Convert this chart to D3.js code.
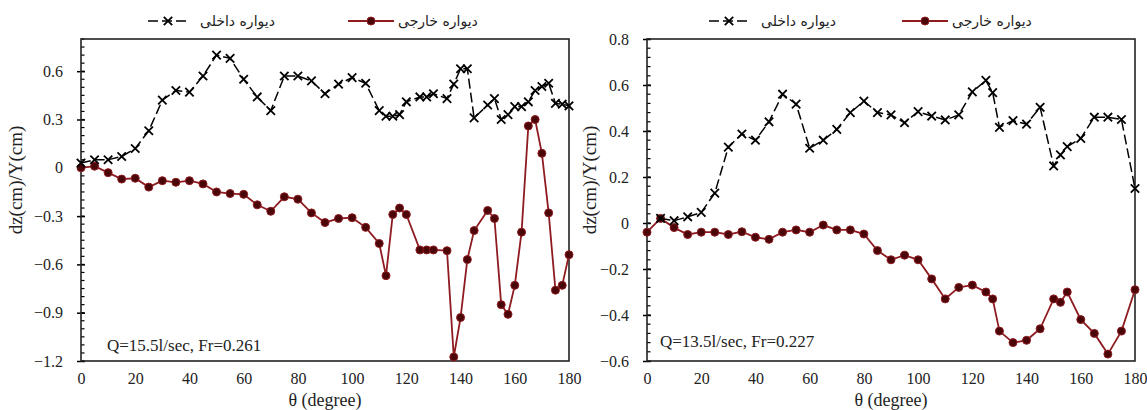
<!DOCTYPE html>
<html>
<head>
<meta charset="utf-8">
<script src="https://cdn.jsdelivr.net/npm/d3@7"></script>
<style>
  body { margin: 0; background: #fff; }
  svg { display: block; }
</style>
</head>
<body>
<svg id="chart" width="1147" height="410"></svg>
<script>
// values (theta in degrees, dz/Y)
var leftAngles = [0,5,10,15,20,25,30,35,40,45,50,55,60,65,70,75,80,85,90,95,100,105,110,
    112.5,115,117.5,120,125,127.5,130,135,137.5,140,142.5,145,
    150,152.5,155,157.5,160,162.5,165,167.5,170,172.5,175,177.5,180];
var leftInner = [0.03,0.05,0.05,0.07,0.12,0.23,0.42,0.48,0.47,0.57,0.70,0.68,0.55,0.44,0.355,0.57,0.57,0.54,0.46,0.52,0.56,0.525,0.355,
    0.32,0.32,0.33,0.41,0.44,0.44,0.46,0.43,0.52,0.615,0.615,0.31,
    0.39,0.43,0.30,0.33,0.38,0.38,0.41,0.48,0.505,0.525,0.40,0.395,0.385];
var leftOuter = [0,0.01,-0.03,-0.07,-0.065,-0.12,-0.08,-0.09,-0.08,-0.10,-0.15,-0.16,-0.165,-0.23,-0.27,-0.18,-0.195,-0.28,-0.34,-0.315,-0.31,-0.37,-0.47,
    -0.67,-0.29,-0.25,-0.29,-0.51,-0.51,-0.51,-0.515,-1.175,-0.93,-0.57,-0.39,
    -0.265,-0.315,-0.85,-0.91,-0.73,-0.40,0.26,0.30,0.09,-0.28,-0.76,-0.73,-0.54];

var rightOuterAngles = [0,5,10,15,20,25,30,35,40,45,50,55,60,65,70,75,80,85,90,95,100,105,110,115,120,125,
    127.5,130,135,140,145,150,152.5,155,160,165,170,175,180];
var rightOuter = [-0.04,0.02,-0.02,-0.05,-0.04,-0.04,-0.05,-0.038,-0.062,-0.071,-0.04,-0.03,-0.04,-0.009,-0.03,-0.03,-0.048,-0.12,-0.16,-0.14,-0.16,-0.243,-0.33,-0.28,-0.27,-0.30,
    -0.33,-0.47,-0.52,-0.51,-0.46,-0.33,-0.345,-0.30,-0.42,-0.48,-0.57,-0.47,-0.29];
var rightInnerAngles = [5,10,15,20,25,30,35,40,45,50,55,60,65,70,75,80,85,90,95,100,105,110,115,120,125,
    127.5,130,135,140,145,150,152.5,155,160,165,170,175,180];
var rightInner = [0.02,0.01,0.027,0.046,0.13,0.33,0.387,0.36,0.44,0.56,0.517,0.325,0.36,0.407,0.48,0.53,0.48,0.47,0.436,0.484,0.465,0.448,0.47,0.57,0.62,
    0.567,0.416,0.445,0.43,0.503,0.248,0.296,0.332,0.368,0.46,0.46,0.45,0.15];

var xTicks = [0,20,40,60,80,100,120,140,160,180];
var leftYTicks = [-1.2,-0.9,-0.6,-0.3,0,0.3,0.6];
var rightYTicks = [-0.6,-0.4,-0.2,0,0.2,0.4,0.6,0.8];

var innerLabel = "دیواره داخلی";
var outerLabel = "دیواره خارجی";
var xTitle = "θ (degree)";
var yTitle = "dz(cm)/Y(cm)";

var serif = "'Liberation Serif', 'Times New Roman', serif";
var redLine = "#8e1b20";
var redFill = "#4a0608";

var svg = d3.select('#chart');

function zip(xs, ys) {
    return xs.map(function(x, i) { return [x, ys[i]]; });
}

function drawX(g, x, y, s) {
    g.append("path")
        .attr("d", "M" + (x - s) + "," + (y - s) + "L" + (x + s) + "," + (y + s) +
                   "M" + (x - s) + "," + (y + s) + "L" + (x + s) + "," + (y - s))
        .attr("stroke", "#000")
        .attr("stroke-width", 1.8)
        .attr("fill", "none");
}

function panel(opt) {
    var x = d3.scaleLinear().domain([0, 180]).range([opt.left, opt.right]);
    var y = d3.scaleLinear().domain(opt.yDomain).range([opt.bottom, opt.top]);
    var g = svg.append("g");

    // y axis, major ticks crossing the line
    var yAxis = g.append("g")
        .attr("transform", "translate(" + opt.left + ",0)")
        .call(d3.axisLeft(y).tickValues(opt.yTicks).tickSize(4).tickPadding(14)
            .tickFormat(function(d) { return d3.format("")(+d.toFixed(1)); }));
    yAxis.select(".domain").remove();
    yAxis.selectAll(".tick line").attr("x1", 4).attr("x2", -4).attr("stroke", "#000").attr("stroke-width", 1.5);
    yAxis.selectAll(".tick text").attr("font-family", serif).attr("font-size", 16).attr("fill", "#222");

    // minor ticks
    var minor = d3.range(opt.yDomain[0], opt.yDomain[1] + 1e-9, opt.minorStep);
    g.selectAll(".minor").data(minor).enter().append("line")
        .attr("x1", opt.left).attr("x2", opt.left + 3.5)
        .attr("y1", function(d) { return y(d); }).attr("y2", function(d) { return y(d); })
        .attr("stroke", "#000").attr("stroke-width", 1.2);

    // x axis labels
    var xAxis = g.append("g")
        .attr("transform", "translate(0," + opt.bottom + ")")
        .call(d3.axisBottom(x).tickValues(xTicks).tickSize(0).tickPadding(12));
    xAxis.select(".domain").remove();
    xAxis.selectAll(".tick text").attr("font-family", serif).attr("font-size", 16).attr("fill", "#222");

    // frame
    g.append("rect")
        .attr("x", opt.left).attr("y", opt.top)
        .attr("width", opt.right - opt.left).attr("height", opt.bottom - opt.top)
        .attr("fill", "none").attr("stroke", "#222").attr("stroke-width", 1.6);

    // titles
    g.append("text")
        .attr("x", (opt.left + opt.right) / 2).attr("y", 406)
        .attr("text-anchor", "middle")
        .attr("font-family", serif).attr("font-size", 18).attr("fill", "#222")
        .text(xTitle);
    g.append("text")
        .attr("transform", "translate(" + opt.yTitleX + ",180) rotate(-90)")
        .attr("text-anchor", "middle")
        .attr("font-family", serif).attr("font-size", 19).attr("fill", "#222")
        .text(yTitle);
    g.append("text")
        .attr("x", opt.noteX).attr("y", opt.noteY)
        .attr("font-family", serif).attr("font-size", 17).attr("fill", "#222")
        .text(opt.note);

    var line = d3.line()
        .x(function(d) { return x(d[0]); })
        .y(function(d) { return y(d[1]); });

    // outer wall (red, circles)
    var outer = zip(opt.outerAngles, opt.outer);
    g.append("path").datum(outer)
        .attr("d", line).attr("fill", "none")
        .attr("stroke", redLine).attr("stroke-width", 1.8);
    g.selectAll(".dot").data(outer).enter().append("circle")
        .attr("cx", function(d) { return x(d[0]); })
        .attr("cy", function(d) { return y(d[1]); })
        .attr("r", 4)
        .attr("fill", redFill).attr("stroke", redLine).attr("stroke-width", 1);

    // inner wall (black dashed, crosses)
    var inner = zip(opt.innerAngles, opt.inner);
    g.append("path").datum(inner)
        .attr("d", line).attr("fill", "none")
        .attr("stroke", "#000").attr("stroke-width", 1.5)
        .attr("stroke-dasharray", "10,4");
    inner.forEach(function(d) { drawX(g, x(d[0]), y(d[1]), 4.2); });

    // legend
    var ly = 21;
    g.append("line")
        .attr("x1", opt.legInner).attr("x2", opt.legInner + 40)
        .attr("y1", ly).attr("y2", ly)
        .attr("stroke", "#000").attr("stroke-width", 1.5).attr("stroke-dasharray", "10,4");
    drawX(g, opt.legInner + 20, ly, 4.2);
    g.append("text")
        .attr("x", opt.legInner + 52).attr("y", ly + 5)
        .attr("font-family", "'DejaVu Sans', sans-serif").attr("font-size", 14).attr("fill", "#222")
        .text(innerLabel);
    g.append("line")
        .attr("x1", opt.legOuter).attr("x2", opt.legOuter + 46)
        .attr("y1", ly).attr("y2", ly)
        .attr("stroke", redLine).attr("stroke-width", 1.8);
    g.append("circle")
        .attr("cx", opt.legOuter + 23).attr("cy", ly).attr("r", 4)
        .attr("fill", redFill).attr("stroke", redLine);
    g.append("text")
        .attr("x", opt.legOuter + 50).attr("y", ly + 5)
        .attr("font-family", "'DejaVu Sans', sans-serif").attr("font-size", 14).attr("fill", "#222")
        .text(outerLabel);
}

panel({
    left: 81, right: 569, top: 39, bottom: 361,
    yDomain: [-1.2, 0.8], yTicks: leftYTicks, minorStep: 0.05,
    innerAngles: leftAngles, inner: leftInner,
    outerAngles: leftAngles, outer: leftOuter,
    yTitleX: 22, note: "Q=15.5l/sec, Fr=0.261", noteX: 107, noteY: 351,
    legInner: 148, legOuter: 348
});

panel({
    left: 647, right: 1135, top: 39, bottom: 361,
    yDomain: [-0.6, 0.8], yTicks: rightYTicks, minorStep: 0.04,
    innerAngles: rightInnerAngles, inner: rightInner,
    outerAngles: rightOuterAngles, outer: rightOuter,
    yTitleX: 596, note: "Q=13.5l/sec, Fr=0.227", noteX: 660, noteY: 347,
    legInner: 709, legOuter: 902
});
</script>
</body>
</html>
